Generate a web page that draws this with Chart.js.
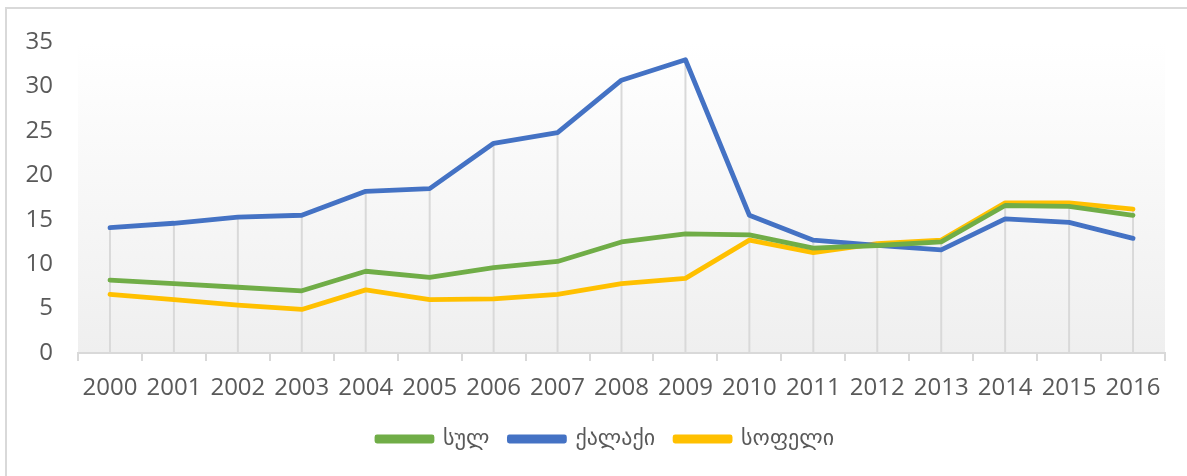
<!DOCTYPE html>
<html>
<head>
<meta charset="utf-8">
<script src="https://cdn.jsdelivr.net/npm/chart.js@4.4.0/dist/chart.umd.min.js"></script>
<style>
  html, body { margin: 0; padding: 0; background: #fff; }
  #wrap { width: 1187px; height: 476px; position: relative; }
</style>
</head>
<body>
<div id="wrap"><canvas id="myChart" width="1187" height="476"></canvas></div>
<script>
var years = ['2000', '2001', '2002', '2003', '2004', '2005', '2006', '2007', '2008',
  '2009', '2010', '2011', '2012', '2013', '2014', '2015', '2016']
var seriesNames = ['სულ', 'ქალაქი', 'სოფელი']
var total = [8.2, 7.8, 7.4, 7.0, 9.2, 8.5, 9.6, 10.3, 12.5, 13.4, 13.3, 11.8, 12.1, 12.5, 16.6, 16.5, 15.5]
var urban = [14.1, 14.6, 15.3, 15.5, 18.2, 18.5, 23.6, 24.8, 30.7, 33.0, 15.5, 12.7, 12.1, 11.6, 15.1, 14.7, 12.9]
var rural = [6.6, 6.0, 5.4, 4.9, 7.1, 6.0, 6.1, 6.6, 7.8, 8.4, 12.7, 11.3, 12.3, 12.7, 16.9, 16.9, 16.2]
var yTicks = [0, 5, 10, 15, 20, 25, 30, 35]

var colors = ['#70ad47', '#4472c4', '#ffc000']
var textColor = '#595959'
var fontFamily = '"Open Sans", "DejaVu Sans", sans-serif'

// background frame + gradient plot area
var bgPlugin = {
  id: 'bg',
  afterLayout: function (chart) {
    // legend sits a bit right of the canvas centre in the original
    chart.legend.left += 23
    chart.legend.right += 23
  },
  beforeDraw: function (chart) {
    var ctx = chart.ctx
    var a = chart.chartArea
    ctx.save()
    ctx.strokeStyle = '#d9d9d9'
    ctx.lineWidth = 2
    ctx.strokeRect(6, 8, chart.width + 20, chart.height + 20)
    var g = ctx.createLinearGradient(0, a.top, 0, a.bottom)
    g.addColorStop(0, '#ffffff')
    g.addColorStop(1, '#efefef')
    ctx.fillStyle = g
    ctx.fillRect(a.left, a.top, a.right - a.left, a.bottom - a.top)
    ctx.restore()
  }
}

// drop lines from the axis up to the highest series at each year
var dropLines = {
  id: 'dropLines',
  beforeDatasetsDraw: function (chart) {
    var ctx = chart.ctx
    var xs = chart.scales.x
    var ys = chart.scales.y
    ctx.save()
    ctx.strokeStyle = '#d9d9d9'
    ctx.lineWidth = 2
    for (var i = 0; i < years.length; i++) {
      var top = Math.max(total[i], urban[i], rural[i])
      var x = xs.getPixelForValue(i)
      ctx.beginPath()
      ctx.moveTo(x, ys.getPixelForValue(0))
      ctx.lineTo(x, ys.getPixelForValue(top))
      ctx.stroke()
    }
    ctx.restore()
  }
}

function makeSet(i, values) {
  return {
    label: seriesNames[i],
    data: values,
    borderColor: colors[i],
    backgroundColor: colors[i],
    borderWidth: 4.8,
    pointRadius: 0,
    tension: 0,
    borderCapStyle: 'round',
    borderJoinStyle: 'round'
  }
}

var myChart = new Chart('myChart', {
  type: 'line',
  data: {
    labels: years,
    datasets: [makeSet(0, total), makeSet(1, urban), makeSet(2, rural)]
  },
  options: {
    responsive: false,
    animation: false,
    layout: { padding: { top: 42, right: 22, bottom: 16, left: 0 } },
    plugins: {
      legend: {
        position: 'bottom',
        labels: {
          boxWidth: 55,
          boxHeight: 4,
          padding: 20,
          color: textColor,
          font: { family: fontFamily, size: 22 }
        }
      },
      tooltip: { enabled: false }
    },
    scales: {
      x: {
        offset: true,
        grid: {
          offset: true,
          drawOnChartArea: false,
          drawTicks: true,
          tickLength: 8,
          color: '#d9d9d9',
          lineWidth: 2
        },
        border: { color: '#d9d9d9', width: 2 },
        ticks: {
          color: textColor,
          font: { family: fontFamily, size: 24 },
          maxRotation: 0,
          autoSkip: false,
          padding: 13
        },
        afterFit: function (scale) { scale.height = 55 }
      },
      y: {
        min: 0,
        max: 35,
        afterBuildTicks: function (scale) {
          scale.ticks = yTicks.map(function (v) { return { value: v } })
        },
        grid: { display: false },
        border: { display: false },
        ticks: {
          color: textColor,
          font: { family: fontFamily, size: 24 },
          padding: 17
        },
        afterFit: function (scale) { scale.width = 78 }
      }
    }
  },
  plugins: [bgPlugin, dropLines]
})
</script>
</body>
</html>
